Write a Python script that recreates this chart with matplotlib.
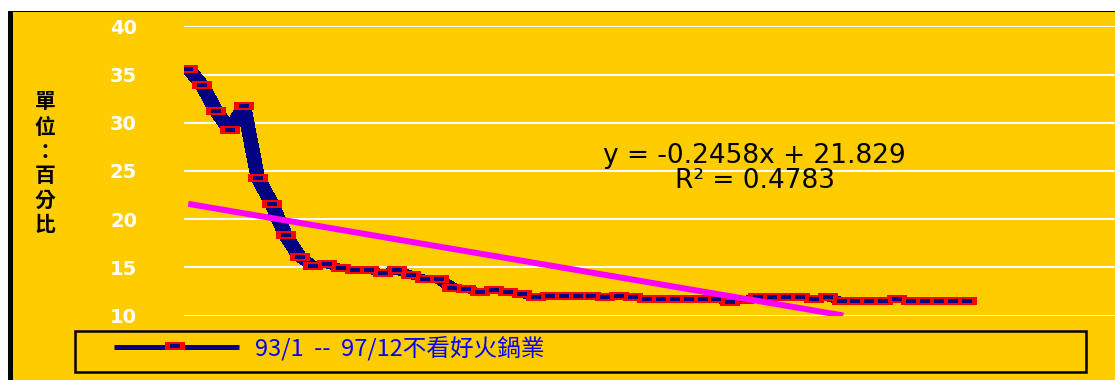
import numpy as np
import matplotlib
matplotlib.use('Agg')
import matplotlib.pyplot as plt
from matplotlib.path import Path
from matplotlib.patches import Rectangle
from matplotlib.lines import Line2D

# monthly share (%), 93/1 onwards
months = np.arange(1, 58)
share = [35.6, 33.9, 31.2, 29.2, 31.7, 24.3, 21.6, 18.3, 16.1, 15.1,
         15.3, 14.9, 14.7, 14.7, 14.4, 14.7, 14.2, 13.8, 13.8, 12.9,
         12.75, 12.4, 12.6, 12.4, 12.2, 11.9, 12.0, 12.0, 12.0, 12.0,
         11.9, 12.0, 11.9, 11.7, 11.7, 11.7, 11.7, 11.7, 11.7, 11.4,
         11.6, 11.95, 11.9, 11.9, 11.9, 11.7, 11.9, 11.5, 11.5, 11.5,
         11.5, 11.7, 11.5, 11.5, 11.5, 11.5, 11.5]

# linear trend shown on the chart
slope = -0.2458
intercept = 21.829
r2 = 0.4783

yticks = [10, 15, 20, 25, 30, 35, 40]
series_label = '93/1  --  97/12不看好火鍋業'
ylabel = '單位：百分比'

YEL = '#FFCC00'
NAVY = '#000080'
RED = '#FF0000'
MAG = '#FF00FF'
BLUE = '#0000FF'
CJK = ['Noto Sans CJK TC', 'DejaVu Sans']

W, H = 1115, 380
fig = plt.figure(figsize=(W / 100, H / 100), dpi=100, facecolor='white')

# yellow chart area with black left / top border
fig.add_artist(Rectangle((8 / W, 0), 1, (H - 11) / H, transform=fig.transFigure,
                         fc=YEL, ec='none', zorder=0))
fig.add_artist(Rectangle((8 / W, 0), 4.5 / W, (H - 11) / H, transform=fig.transFigure,
                         fc='black', ec='none', zorder=0.5))
fig.add_artist(Rectangle((8 / W, (H - 12) / H), 1, 1.2 / H, transform=fig.transFigure,
                         fc='black', ec='none', zorder=0.5))

ax = fig.add_axes([184 / W, 64.5 / H, (W - 184) / W, 289.2 / H])
ax.set_facecolor('none')
step = 13.9  # px per month
ax.set_xlim(1 - 4.3 / step, 1 + (W - 188.3) / step)
ax.set_ylim(10, 40)
ax.set_xticks([])
ax.set_yticks(yticks)
for s in ax.spines.values():
    s.set_visible(False)
ax.grid(axis='y', color='white', lw=1.4)
ax.set_axisbelow(True)
ax.tick_params(axis='y', length=0, pad=33.8, labelcolor='white', labelsize=14)
for lbl in ax.get_yticklabels():
    lbl.set_fontweight('bold')


def hull(pts):
    pts = sorted(set(pts))
    def cross(o, a, b):
        return (a[0] - o[0]) * (b[1] - o[1]) - (a[1] - o[1]) * (b[0] - o[0])
    lower, upper = [], []
    for p in pts:
        while len(lower) >= 2 and cross(lower[-2], lower[-1], p) <= 0:
            lower.pop()
        lower.append(p)
    for p in reversed(pts):
        while len(upper) >= 2 and cross(upper[-2], upper[-1], p) <= 0:
            upper.pop()
        upper.append(p)
    return lower[:-1] + upper[:-1]


# thick navy line drawn with a wide rectangular pen
ppx = (W - 184) / (ax.get_xlim()[1] - ax.get_xlim()[0])
ppy = 289.2 / 30
a = 6.5 / ppx
b = 2.0 / ppy
for i in range(len(months) - 1):
    pts = []
    for x, y in ((months[i], share[i]), (months[i + 1], share[i + 1])):
        pts += [(x - a, y - b), (x + a, y - b), (x + a, y + b), (x - a, y + b)]
    hp = hull(pts)
    ax.fill([p[0] for p in hp], [p[1] for p in hp], color=NAVY, lw=0,
            antialiased=False, zorder=2)

outer = Path([(-1, -7 / 19), (1, -7 / 19), (1, 7 / 19), (-1, 7 / 19), (-1, -7 / 19)])
inner = Path([(-1, -1 / 3), (1, -1 / 3), (1, 1 / 3), (-1, 1 / 3), (-1, -1 / 3)])
ax.plot(months, share, ls='none', marker=outer, ms=13.7, mfc=RED, mew=0, zorder=3)
ax.plot(months, share, ls='none', marker=inner, ms=6.5, mfc=NAVY, mew=0, zorder=3.1)

# trend line, stopped where it leaves the axis floor
x_end = (ax.get_ylim()[0] - intercept) / slope
xt = np.array([months[0], x_end])
ax.plot(xt, slope * xt + intercept, color=MAG, lw=4.3, solid_capstyle='butt',
        zorder=4)

fig.text(754.5 / W, 1 - 156 / H, f'y = {slope}x + {intercept}', ha='center',
         va='center', fontsize=19, family='DejaVu Sans')
fig.text(755 / W, 1 - 181 / H, f'R² = {r2}', ha='center', va='center',
         fontsize=19, family='DejaVu Sans')

# vertical axis title, one character per row
for ch, yc in zip(ylabel, [101, 127, 152, 176, 200, 225]):
    fig.text(45 / W, 1 - yc / H, ch, ha='center', va='center', fontsize=15,
             family=CJK, fontweight='bold', color='black')

# legend box
fig.add_artist(Rectangle((74.5 / W, 1 - 371.5 / H), (1085.5 - 74.5) / W,
                         (371.5 - 331.2) / H, transform=fig.transFigure,
                         fc=YEL, ec='black', lw=1.8, zorder=5))
fig.add_artist(Line2D([114 / W, 239 / W], [1 - 346.5 / H] * 2, transform=fig.transFigure,
                      color=NAVY, lw=3.6, solid_capstyle='butt', zorder=6))
fig.add_artist(Line2D([174.7 / W], [1 - 345.5 / H], transform=fig.transFigure,
                      ls='none', marker=outer, ms=13.7, mfc=RED, mew=0, zorder=6))
fig.add_artist(Line2D([174.7 / W], [1 - 345.5 / H], transform=fig.transFigure,
                      ls='none', marker=inner, ms=6.5, mfc=NAVY, mew=0, zorder=6.1))
fig.text(255 / W, 1 - 349 / H, series_label, ha='left', va='center', color=BLUE,
         fontsize=17, family=CJK, zorder=6)

fig.savefig('out.png', dpi=100, facecolor=fig.get_facecolor())
